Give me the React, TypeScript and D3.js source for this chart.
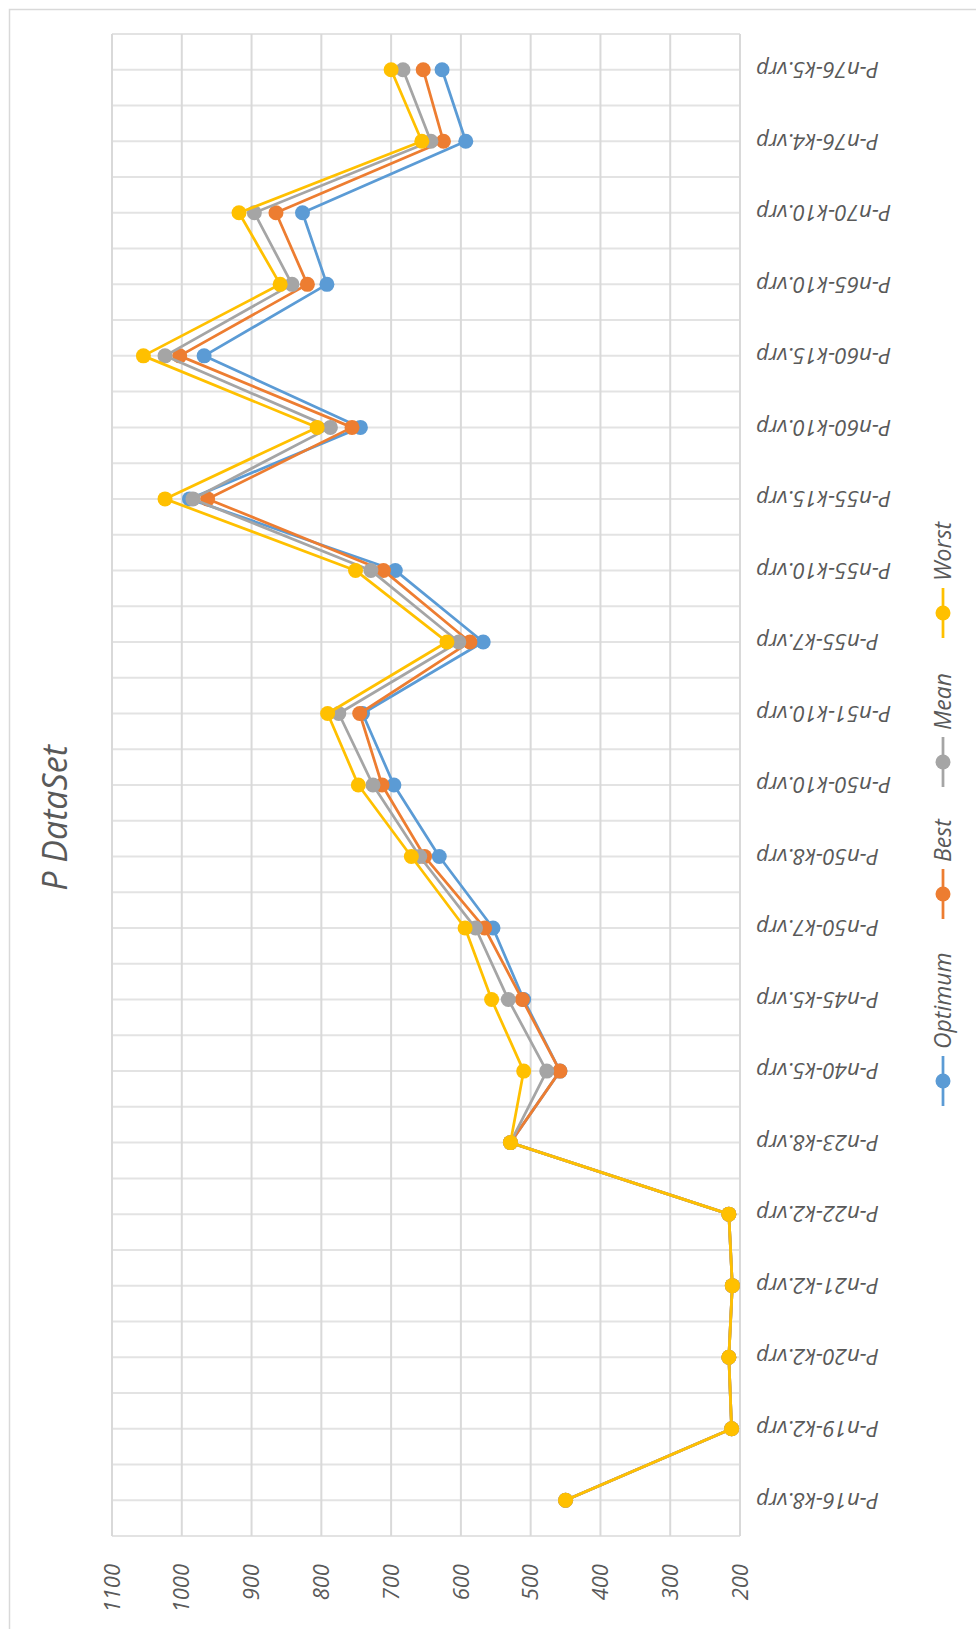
import React from "react";
import * as d3 from "d3";

// Instances of the P benchmark set, bottom to top
const categories = [
  "P-n16-k8.vrp", "P-n19-k2.vrp", "P-n20-k2.vrp", "P-n21-k2.vrp", "P-n22-k2.vrp",
  "P-n23-k8.vrp", "P-n40-k5.vrp", "P-n45-k5.vrp", "P-n50-k7.vrp", "P-n50-k8.vrp",
  "P-n50-k10.vrp", "P-n51-k10.vrp", "P-n55-k7.vrp", "P-n55-k10.vrp", "P-n55-k15.vrp",
  "P-n60-k10.vrp", "P-n60-k15.vrp", "P-n65-k10.vrp", "P-n70-k10.vrp", "P-n76-k4.vrp",
  "P-n76-k5.vrp",
];

const optimum = [450, 212, 216, 211, 216, 529, 458, 510, 554, 631, 696, 741, 568, 694, 989, 744, 968, 792, 827, 593, 627];
const best = [450, 212, 216, 211, 216, 529, 458, 512, 566, 652, 713, 745, 587, 711, 963, 756, 1003, 820, 865, 625, 654];
const mean = [450, 212, 216, 211, 216, 529, 477, 532, 579, 659, 726, 775, 603, 729, 984, 787, 1024, 842, 896, 643, 683];
const worst = [450, 212, 216, 211, 216, 529, 510, 556, 594, 671, 747, 791, 620, 751, 1024, 806, 1055, 859, 918, 656, 700];

const valueTicks = [200, 300, 400, 500, 600, 700, 800, 900, 1000, 1100];

const seriesNames = ["Optimum", "Best", "Mean", "Worst"];
const seriesValues = [optimum, best, mean, worst];
const seriesColors = ["#5B9BD5", "#ED7D31", "#A5A5A5", "#FFC000"];

const title = "P DataSet";

const W = 976;
const H = 1629;
const plot = { left: 112, right: 740, top: 34, bottom: 1536 };
const legendX = 943;
const legendY = [1081, 894, 762, 613];
const FONT = "'Open Sans', 'Noto Sans', sans-serif";
const TEXT = "#595959";
const GRID = "#D9D9D9";

export default function App() {
  // the value axis runs right-to-left, categories run bottom-to-top
  const x = d3.scaleLinear().domain([200, 1100]).range([plot.right, plot.left]);
  const y = d3
    .scaleBand<string>()
    .domain([...categories].reverse())
    .range([plot.top, plot.bottom])
    .paddingInner(0)
    .paddingOuter(0);
  const bw = y.bandwidth();
  const cy = (c: string) => (y(c) as number) + bw / 2;

  const halfLines = d3.range(0, categories.length * 2 + 1).map((i) => plot.top + (i * bw) / 2);

  const line = d3
    .line<number>()
    .x((d) => x(d))
    .y((_, i) => cy(categories[i]));

  return (
    <svg
      width={W}
      height={H}
      style={{ position: "absolute", left: 0, top: 0, background: "#fff" }}
      fontFamily={FONT}
    >
      <rect x={9.5} y={9.5} width={1100} height={1800} fill="#fff" stroke={GRID} strokeWidth={1.5} />

      {/* category gridlines */}
      {halfLines.map((yy, i) => (
        <line key={"h" + i} x1={plot.left} x2={plot.right} y1={yy} y2={yy} stroke="#E3E3E3" strokeWidth={2} />
      ))}
      {/* value gridlines */}
      {valueTicks.map((t) => (
        <line key={"v" + t} x1={x(t)} x2={x(t)} y1={plot.top} y2={plot.bottom} stroke={GRID} strokeWidth={2} />
      ))}

      {/* value tick labels */}
      {valueTicks.map((t) => (
        <text
          key={"vt" + t}
          transform={`translate(${x(t)},${plot.bottom + 28}) rotate(-90)`}
          textAnchor="end"
          dy="0.35em"
          fontSize={22}
          fontStyle="italic"
          fill={TEXT}
        >
          {t}
        </text>
      ))}

      {/* category labels */}
      {categories.map((c) => (
        <text
          key={"c" + c}
          transform={`translate(${plot.right + 16},${cy(c)}) rotate(180)`}
          textAnchor="end"
          dy="0.35em"
          fontSize={22}
          fontStyle="italic"
          fill={TEXT}
        >
          {c}
        </text>
      ))}

      {/* series */}
      {seriesValues.map((vals, s) => (
        <g key={"s" + s}>
          <path d={line(vals) || ""} fill="none" stroke={seriesColors[s]} strokeWidth={2.75} strokeLinejoin="round" />
          {vals.map((v, i) => (
            <circle key={i} cx={x(v)} cy={cy(categories[i])} r={7.5} fill={seriesColors[s]} />
          ))}
        </g>
      ))}

      {/* title */}
      <text
        transform={`translate(55,818) rotate(-90)`}
        textAnchor="middle"
        dy="0.35em"
        fontSize={34}
        fontStyle="italic"
        fill={TEXT}
      >
        {title}
      </text>

      {/* legend */}
      {seriesNames.map((n, s) => (
        <g key={"l" + n}>
          <line x1={legendX} x2={legendX} y1={legendY[s] - 25} y2={legendY[s] + 25} stroke={seriesColors[s]} strokeWidth={2.75} />
          <circle cx={legendX} cy={legendY[s]} r={7.5} fill={seriesColors[s]} />
          <text
            transform={`translate(${legendX},${legendY[s] - 32}) rotate(-90)`}
            textAnchor="start"
            dy="0.35em"
            fontSize={23}
            fontStyle="italic"
            fill={TEXT}
          >
            {n}
          </text>
        </g>
      ))}
    </svg>
  );
}
